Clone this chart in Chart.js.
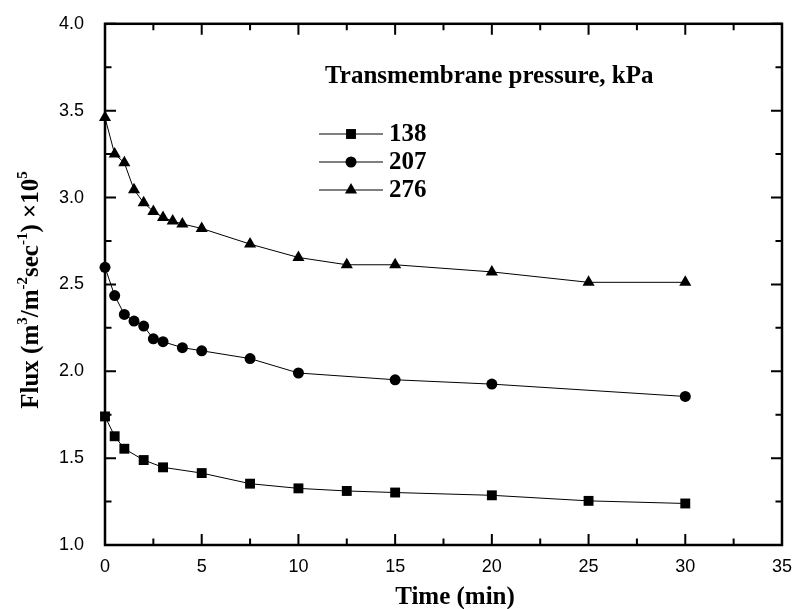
<!DOCTYPE html>
<html>
<head>
<meta charset="utf-8">
<script src="https://cdn.jsdelivr.net/npm/chart.js@4/dist/chart.umd.min.js"></script>
<style>
html, body { margin: 0; padding: 0; background: #fff; }
#wrap { width: 795px; height: 609px; }
</style>
</head>
<body>
<div id="wrap"><canvas id="chart"></canvas></div>
<script>
// values
const time138 = [0, 0.5, 1, 2, 3, 5, 7.5, 10, 12.5, 15, 20, 25, 30];
const flux138 = [1.74, 1.626, 1.554, 1.489, 1.447, 1.414, 1.353, 1.326, 1.311, 1.302, 1.286, 1.254, 1.239];
const time207 = [0, 0.5, 1, 1.5, 2, 2.5, 3, 4, 5, 7.5, 10, 15, 20, 30];
const flux207 = [2.598, 2.436, 2.327, 2.289, 2.26, 2.187, 2.17, 2.136, 2.118, 2.073, 1.99, 1.951, 1.926, 1.855];
const time276 = [0, 0.5, 1, 1.5, 2, 2.5, 3, 3.5, 4, 5, 7.5, 10, 12.5, 15, 20, 25, 30];
const flux276 = [3.46, 3.25, 3.2, 3.045, 2.97, 2.92, 2.885, 2.865, 2.848, 2.822, 2.732, 2.655, 2.613, 2.613, 2.572, 2.512, 2.512];

const seriesNames = ['138', '207', '276'];
const legendTitle = 'Transmembrane pressure, kPa';
const xTitle = 'Time (min)';
const xTicks = [0, 5, 10, 15, 20, 25, 30, 35];
const yTicks = [1.0, 1.5, 2.0, 2.5, 3.0, 3.5, 4.0];

const serif = '"Liberation Serif", "Times New Roman", serif';

function pts(xs, ys) {
    return xs.map((x, i) => ({ x: x, y: ys[i] }));
}

function lineSet(label, data, style, r) {
    return {
        label: label,
        data: data,
        borderColor: '#000',
        borderWidth: 1,
        backgroundColor: '#000',
        pointBackgroundColor: '#000',
        pointBorderWidth: 0,
        pointStyle: style,
        pointRadius: r,
        tension: 0,
        clip: false
    };
}

// inward ticks on all four sides + frame
const frameTicks = {
    id: 'frameTicks',
    afterDraw(chart) {
        const ctx = chart.ctx;
        const a = chart.chartArea;
        const xs = chart.scales.x, ys = chart.scales.y;
        ctx.save();
        ctx.strokeStyle = '#000';
        ctx.lineWidth = 2;
        ctx.beginPath();
        const tick = (px, len, horiz) => {
            if (horiz) {
                ctx.moveTo(px, a.bottom); ctx.lineTo(px, a.bottom - len);
                ctx.moveTo(px, a.top); ctx.lineTo(px, a.top + len);
            } else {
                ctx.moveTo(a.left, px); ctx.lineTo(a.left + len, px);
                ctx.moveTo(a.right, px); ctx.lineTo(a.right - len, px);
            }
        };
        xTicks.forEach((v, i) => {
            tick(xs.getPixelForValue(v), 11, true);
            if (i < xTicks.length - 1) tick(xs.getPixelForValue((v + xTicks[i + 1]) / 2), 6.5, true);
        });
        yTicks.forEach((v, i) => {
            tick(ys.getPixelForValue(v), 11, false);
            if (i < yTicks.length - 1) tick(ys.getPixelForValue((v + yTicks[i + 1]) / 2), 6.5, false);
        });
        ctx.stroke();
        ctx.lineWidth = 2.5;
        ctx.strokeRect(a.left, a.top, a.right - a.left, a.bottom - a.top);
        ctx.restore();
    }
};

// axis titles (y one with superscripts)
const axisTitles = {
    id: 'axisTitles',
    afterDraw(chart) {
        const ctx = chart.ctx;
        ctx.save();
        ctx.fillStyle = '#000';
        ctx.textBaseline = 'alphabetic';

        ctx.font = 'bold 25px ' + serif;
        ctx.textAlign = 'center';
        ctx.fillText(xTitle, 455, 604);
        ctx.textAlign = 'left';

        const parts = [['Flux (m', 0], ['3', 1], ['/m', 0], ['-2', 1], ['sec', 0], ['-1', 1], [') \u00d710', 0], ['5', 1]];
        const big = 'bold 25px ' + serif, small = 'bold 15px ' + serif;
        let w = 0;
        parts.forEach(p => { ctx.font = p[1] ? small : big; w += ctx.measureText(p[0]).width; });
        ctx.translate(38, 290);
        ctx.rotate(-Math.PI / 2);
        let x = -w / 2;
        parts.forEach(p => {
            ctx.font = p[1] ? small : big;
            ctx.fillText(p[0], x, p[1] ? -11 : 0);
            x += ctx.measureText(p[0]).width;
        });
        ctx.restore();
    }
};

// legend inside the plot
const boxLegend = {
    id: 'boxLegend',
    afterDraw(chart) {
        const ctx = chart.ctx;
        ctx.save();
        ctx.fillStyle = '#000';
        ctx.strokeStyle = '#000';
        ctx.font = 'bold 25px ' + serif;
        ctx.textBaseline = 'alphabetic';
        ctx.fillText(legendTitle, 325, 83);
        ctx.textBaseline = 'middle';
        chart.data.datasets.forEach((ds, i) => {
            const y = 134 + i * 28;
            ctx.lineWidth = 1;
            ctx.beginPath();
            ctx.moveTo(319, y);
            ctx.lineTo(383, y);
            ctx.stroke();
            Chart.helpers.drawPoint(ctx, { pointStyle: ds.pointStyle, radius: ds.pointRadius, borderWidth: 0, rotation: 0 }, 351, y);
            ctx.fillText(seriesNames[i], 389, y + 1);
        });
        ctx.restore();
    }
};

const ctx = document.getElementById('chart').getContext('2d');
const myChart = new Chart(ctx, {
    type: 'line',
    data: {
        datasets: [
            lineSet(seriesNames[0], pts(time138, flux138), 'rect', 7),
            lineSet(seriesNames[1], pts(time207, flux207), 'circle', 5.5),
            lineSet(seriesNames[2], pts(time276, flux276), 'triangle', 7)
        ]
    },
    options: {
        responsive: true,
        maintainAspectRatio: false,
        animation: false,
        devicePixelRatio: 1,
        layout: { padding: { left: 0, right: 13, top: 21, bottom: 0 } },
        plugins: { legend: { display: false }, tooltip: { enabled: false } },
        scales: {
            x: {
                type: 'linear',
                min: 0, max: 35,
                afterBuildTicks: s => { s.ticks = xTicks.map(v => ({ value: v })); },
                afterFit: s => { s.height = 64; },
                grid: { display: false },
                border: { display: false },
                ticks: { color: '#000', padding: 3, font: { family: '"Liberation Sans"', size: 18 } }
            },
            y: {
                min: 1, max: 4,
                afterBuildTicks: s => { s.ticks = yTicks.map(v => ({ value: v })); },
                afterFit: s => { s.width = 105; },
                grid: { display: false },
                border: { display: false },
                ticks: {
                    color: '#000', padding: 13,
                    font: { family: '"Liberation Sans"', size: 18 },
                    callback: v => v.toFixed(1)
                }
            }
        }
    },
    plugins: [frameTicks, axisTitles, boxLegend]
});
</script>
</body>
</html>
